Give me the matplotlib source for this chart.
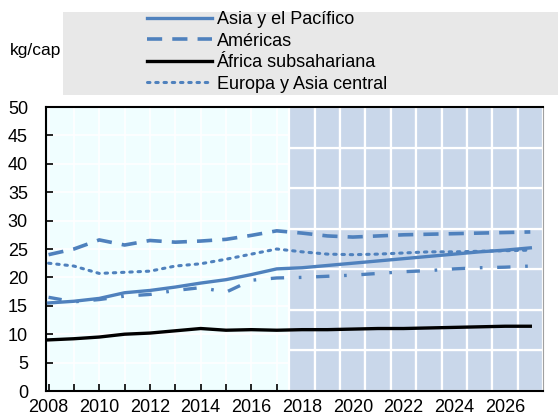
import matplotlib.pyplot as plt
from matplotlib.patches import Rectangle
from matplotlib.lines import Line2D

plt.rcParams["font.family"] = ["Liberation Sans", "DejaVu Sans"]

# datos
years = list(range(2008, 2028))
asia_pacifico = [15.5, 15.8, 16.3, 17.3, 17.7, 18.3, 19.0, 19.6, 20.5, 21.5,
                 21.7, 22.1, 22.5, 22.9, 23.3, 23.7, 24.1, 24.5, 24.8, 25.2]
americas = [24.0, 25.0, 26.6, 25.7, 26.5, 26.2, 26.4, 26.7, 27.4, 28.2,
            27.8, 27.3, 27.1, 27.3, 27.5, 27.6, 27.7, 27.8, 27.9, 28.0]
africa_subsahariana = [9.0, 9.2, 9.5, 10.0, 10.2, 10.6, 11.0, 10.7, 10.8, 10.7,
                       10.8, 10.8, 10.9, 11.0, 11.0, 11.1, 11.2, 11.3, 11.4, 11.4]
europa_asia_central = [22.5, 22.0, 20.7, 20.9, 21.1, 22.0, 22.4, 23.2, 24.1, 25.0,
                       24.5, 24.1, 24.0, 24.1, 24.3, 24.5, 24.5, 24.6, 24.7, 24.8]
oriente_medio = [16.5, 15.7, 16.1, 16.7, 17.0, 17.7, 18.2, 17.4, 19.5, 19.9,
                 20.0, 20.2, 20.4, 20.7, 21.0, 21.2, 21.5, 21.7, 21.8, 22.0]
proj_years = list(range(2018, 2028))
n_bandas = 7

blue = "#4F81BD"
dash = (4.2, 2.8)
dot = (0.8, 1.9)

fig = plt.figure(figsize=(5.58, 4.17), dpi=100)
ax = fig.add_axes([46 / 558, 1 - 391 / 417, (543 - 46) / 558, (391 - 107) / 417])
ax.set_facecolor("#F0FEFF")

# zona de proyección (barras apiladas con bordes blancos)
alto = 50 / n_bandas
for k in range(n_bandas):
    ax.bar(proj_years, [alto] * len(proj_years), bottom=k * alto, width=1.0,
           color="#C9D7EA", edgecolor="white", linewidth=1.6, zorder=1)

ax.plot(years, asia_pacifico, color=blue, lw=2.4, zorder=3,
        label="Asia y el Pacífico")
ax.plot(years, americas, color=blue, lw=2.6, dashes=dash, zorder=3,
        label="Américas")
ax.plot(years, africa_subsahariana, color="black", lw=2.4, zorder=3,
        label="África subsahariana")
ax.plot(years, europa_asia_central, color=blue, lw=2.2, dashes=dot,
        dash_capstyle="round", zorder=3, label="Europa y Asia central")
ax.plot(years, oriente_medio, color=blue, lw=2.4, dashes=(4, 4.4, 0.8, 4.4),
        zorder=3, label="_nolegend_")

ax.set_xlim(2007.9, 2027.5)
ax.set_ylim(0, 50)
ax.set_xticks(years)
ax.set_xticklabels([str(y) if y % 2 == 0 else "" for y in years])
ax.set_yticks(range(0, 51, 5))
ax.grid(True, color="white", lw=1.2, zorder=0)
ax.set_axisbelow(True)
ax.tick_params(direction="in", length=5, width=1.2, labelsize=13)
ax.tick_params(axis="y", pad=13)
ax.tick_params(axis="x", pad=6)
for s in ["left", "bottom", "top"]:
    ax.spines[s].set_linewidth(1.5)
ax.spines["right"].set_color("#A0A0A0")

# leyenda
fig.patches.append(Rectangle((63 / 558, 1 - 95 / 417), 1 - 63 / 558, 83 / 417,
                             transform=fig.transFigure, facecolor="#E8E8E8",
                             edgecolor="none", zorder=0))
handles = [
    Line2D([], [], color=blue, lw=2.4),
    Line2D([], [], color=blue, lw=2.6, dashes=dash),
    Line2D([], [], color="black", lw=2.4),
    Line2D([], [], color=blue, lw=2.2, dashes=dot, dash_capstyle="round"),
]
labels = ["Asia y el Pacífico", "Américas", "África subsahariana",
          "Europa y Asia central"]
fig.legend(handles, labels, loc="upper left",
           bbox_to_anchor=(147 / 558, 1 - 11 / 417), frameon=False,
           fontsize=13, handlelength=3.6, handletextpad=0.25,
           labelspacing=0.25, borderpad=0, borderaxespad=0)

fig.text(10 / 558, 1 - 50 / 417, "kg/cap", fontsize=12.5, va="center")

fig.savefig("out.png", dpi=100)
